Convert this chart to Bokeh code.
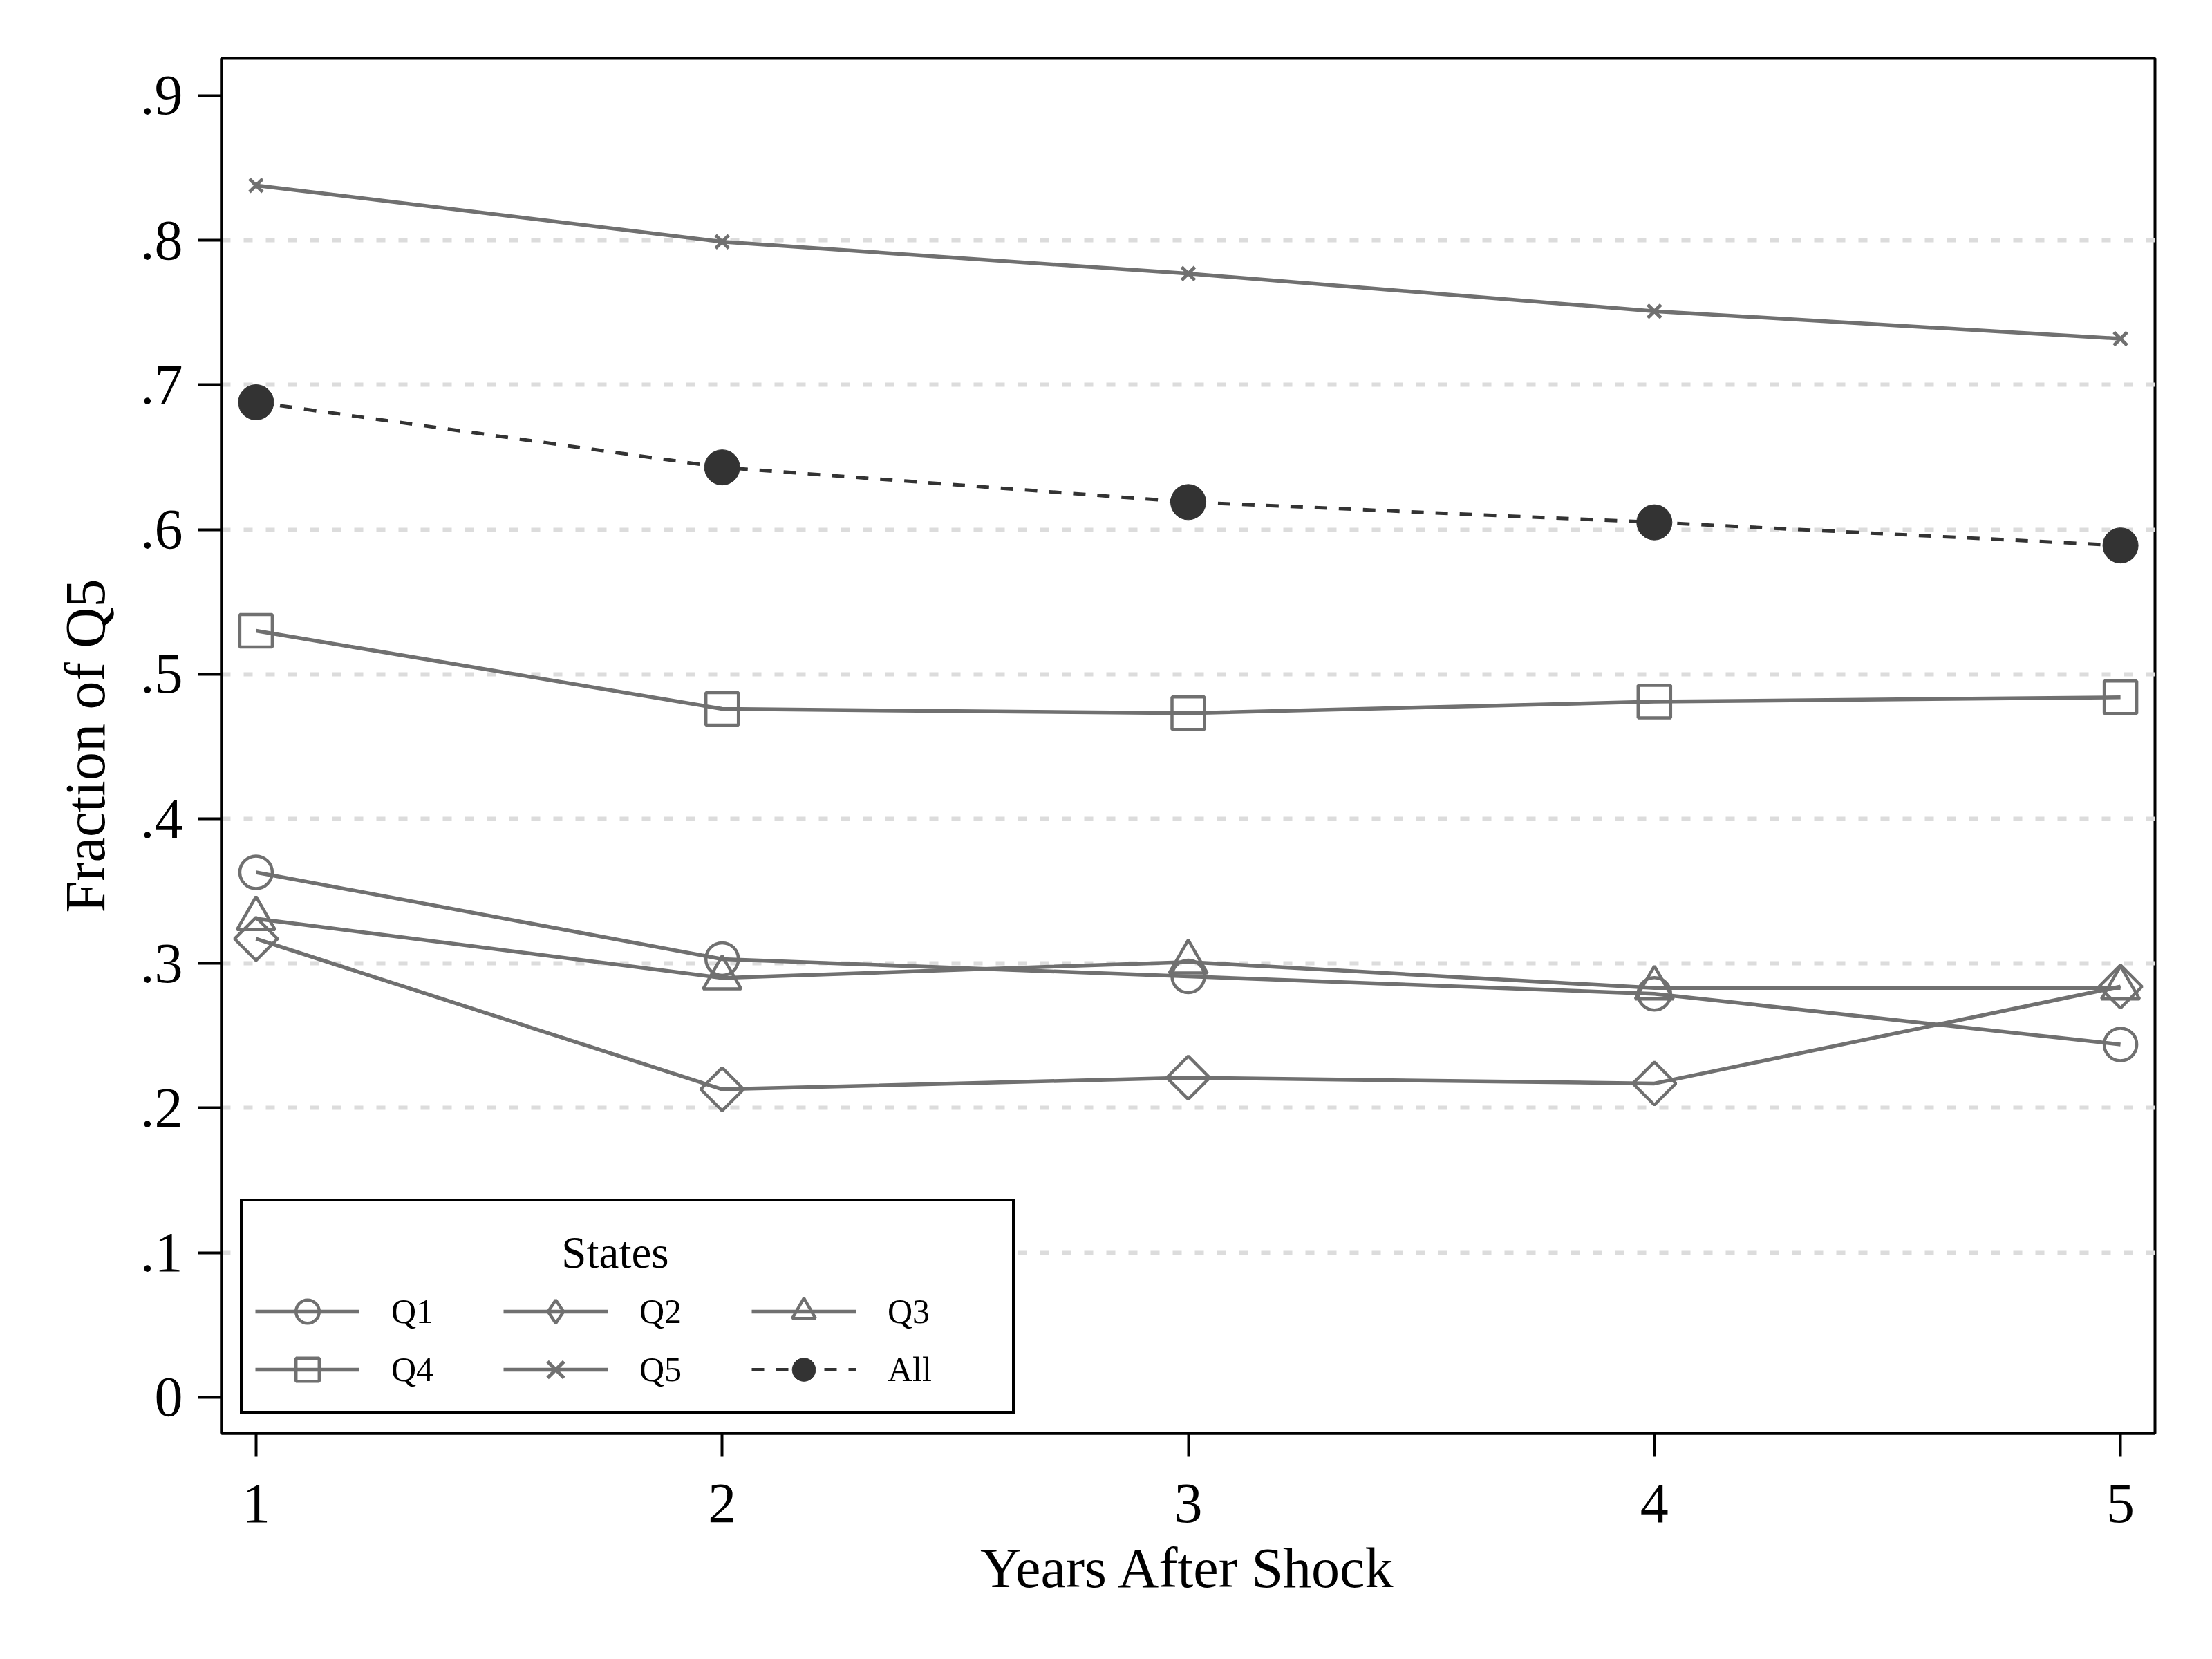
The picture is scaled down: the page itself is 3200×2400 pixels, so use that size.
import numpy as np
from bokeh.plotting import figure
from bokeh.models import Range1d, FixedTicker, Legend, LegendItem, Label, BoxAnnotation
from bokeh.embed import file_html
from bokeh.resources import INLINE

# ---- data ----
years = [1, 2, 3, 4, 5]
q1 = [0.363, 0.303, 0.291, 0.279, 0.244]
q2 = [0.317, 0.213, 0.221, 0.217, 0.284]
q3 = [0.331, 0.290, 0.301, 0.283, 0.283]
q4 = [0.530, 0.476, 0.473, 0.481, 0.484]
q5 = [0.838, 0.799, 0.777, 0.751, 0.732]
all_states = [0.688, 0.643, 0.619, 0.605, 0.589]

series_names = ["Q1", "Q2", "Q3", "Q4", "Q5", "All"]
legend_title = "States"
xtick_values = [1, 2, 3, 4, 5]
ytick_values = [0, 0.1, 0.2, 0.3, 0.4, 0.5, 0.6, 0.7, 0.8, 0.9]
ytick_labels = ["0", ".1", ".2", ".3", ".4", ".5", ".6", ".7", ".8", ".9"]
grid_values = [0.1, 0.2, 0.3, 0.4, 0.5, 0.6, 0.7, 0.8]

FONT = "Liberation Serif"
GRAY = "#707070"
DARK = "#333333"

W, H = 3184, 2384
BL, BR, BT, BB = 320, 67, 84, 311
X0, X1 = 0.926, 5.074
Y0, Y1 = -0.0249, 0.9258
frame_w = W - BL - BR
frame_h = H - BT - BB


def fx(px):  # px offset from frame left -> data x
    return X0 + px / frame_w * (X1 - X0)


def fy(py):  # px offset from frame bottom -> data y
    return Y0 + py / frame_h * (Y1 - Y0)


p = figure(width=W, height=H, output_backend="svg", toolbar_location=None,
           x_range=Range1d(X0, X1), y_range=Range1d(Y0, Y1),
           min_border_left=BL, min_border_right=BR, min_border_top=BT,
           min_border_bottom=BB)
p.background_fill_color = "white"
p.border_fill_color = "white"
p.outline_line_color = "black"
p.outline_line_width = 4
p.outline_line_alpha = 1.0

# axes
for ax in (p.xaxis[0], p.yaxis[0]):
    ax.axis_line_color = "black"
    ax.axis_line_width = 4
    ax.major_tick_line_color = "black"
    ax.major_tick_line_width = 4
    ax.major_tick_out = 34
    ax.major_tick_in = 0
    ax.minor_tick_line_color = None
    ax.major_label_text_font = FONT
    ax.major_label_text_font_size = "82px"
    ax.major_label_text_color = "black"
    ax.axis_label_text_font = FONT
    ax.axis_label_text_font_size = "82px"
    ax.axis_label_text_font_style = "normal"
    ax.axis_label_text_color = "black"

p.xaxis.ticker = FixedTicker(ticks=xtick_values)
p.xaxis.axis_label = "Years After Shock"
p.xaxis.major_label_standoff = 40
p.xaxis.axis_label_standoff = 18

p.yaxis.ticker = FixedTicker(ticks=ytick_values)
p.yaxis.major_label_overrides = dict(zip(ytick_values, ytick_labels))
p.yaxis.axis_label = "Fraction of Q5"
p.yaxis.major_label_standoff = 22
p.yaxis.axis_label_standoff = 31

# grid
p.xgrid.visible = False
p.ygrid.ticker = FixedTicker(ticks=grid_values)
p.ygrid.grid_line_color = "#dcdcdc"
p.ygrid.grid_line_width = 6
p.ygrid.grid_line_dash = "13 19"

# series
line_kw = dict(line_color=GRAY, line_width=5.5)
mk_kw = dict(line_color=GRAY, line_width=4.5, fill_color=None)

l1 = p.line(years, q1, **line_kw)
s1 = p.scatter(years, q1, marker="circle", size=47, **mk_kw)

l2 = p.line(years, q2, **line_kw)
s2 = p.scatter(years, q2, marker="square", angle=np.pi / 4, size=44, **mk_kw)
# upright diamond used only for the legend swatch (legend ignores marker angle)
d2 = p.scatter(years, q2, marker="diamond", size=60, visible=False, **mk_kw)

l3 = p.line(years, q3, **line_kw)
s3 = p.scatter(years, q3, marker="triangle", size=55, **mk_kw)

l4 = p.line(years, q4, **line_kw)
s4 = p.scatter(years, q4, marker="square", size=47, **mk_kw)

l5 = p.line(years, q5, **line_kw)
s5 = p.scatter(years, q5, marker="x", size=27, line_color=GRAY, line_width=5)

l6 = p.line(years, all_states, line_color=DARK, line_width=5, line_dash="18 17")
s6 = p.scatter(years, all_states, marker="circle", size=51, fill_color=DARK,
               line_color=DARK, line_width=1)

items = [
    LegendItem(label=series_names[0], renderers=[l1, s1]),
    LegendItem(label=series_names[1], renderers=[l2, d2]),
    LegendItem(label=series_names[2], renderers=[l3, s3]),
    LegendItem(label=series_names[3], renderers=[l4, s4]),
    LegendItem(label=series_names[4], renderers=[l5, s5]),
    LegendItem(label=series_names[5], renderers=[l6, s6]),
]

# white backing for the legend box (hides the grid line behind the legend)
LEG_X, LEG_Y, LEG_W, LEG_H = 27, 28, 1117, 304
backing = BoxAnnotation(left=fx(LEG_X + 4), right=fx(LEG_X + LEG_W - 4),
                        bottom=fy(LEG_Y + 4), top=fy(LEG_Y + LEG_H - 4),
                        fill_color="white", fill_alpha=1.0, line_color=None,
                        level="annotation")
p.add_layout(backing)

# legend box (title row kept empty; the centred title is drawn as a Label)
legend = Legend(items=items, location=(LEG_X, LEG_Y), orientation="horizontal", ncols=3,
                title=" ", title_text_font=FONT, title_text_font_size="65px",
                title_text_font_style="normal", title_standoff=24,
                label_text_font=FONT, label_text_font_size="50px",
                label_text_color="black", label_standoff=46,
                label_width=162, glyph_width=151, glyph_height=84,
                spacing=0, padding=18, margin=0,
                border_line_color="black", border_line_width=4,
                border_line_alpha=1.0,
                background_fill_color="white", background_fill_alpha=0.0)
p.add_layout(legend)

# centred legend title
title_lbl = Label(x=fx(LEG_X + LEG_W / 2 - 16), y=fy(262),
                  text=legend_title, text_font=FONT, text_font_size="65px",
                  text_font_style="normal",
                  text_color="black", text_align="center",
                  text_baseline="alphabetic", level="overlay")
p.add_layout(title_lbl)

open("out.html", "w").write(file_html(p, INLINE))
